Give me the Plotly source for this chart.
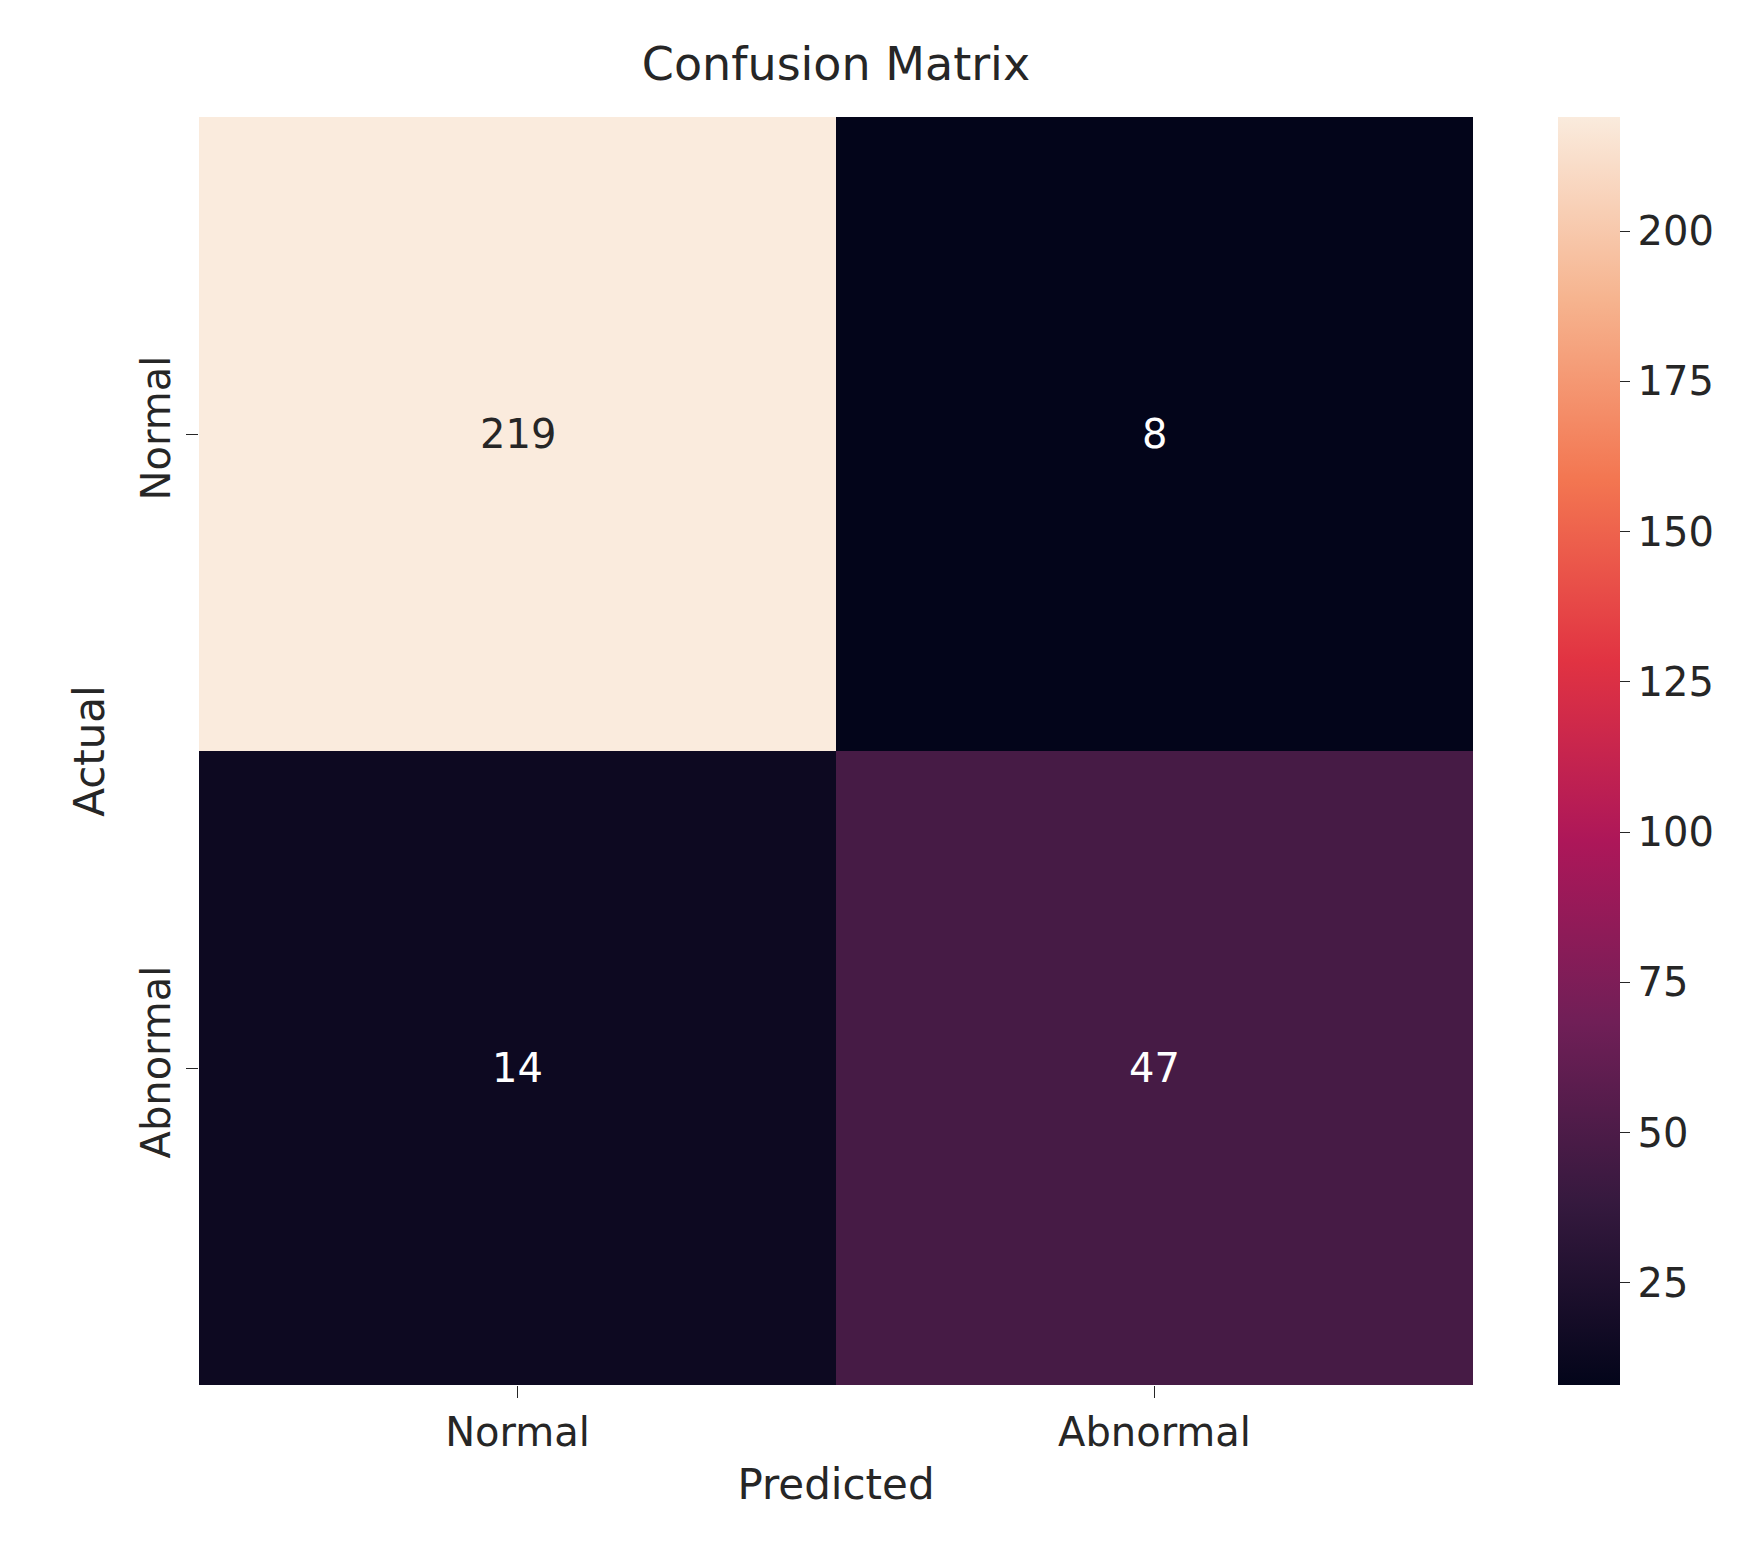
import plotly.graph_objects as go

pred_labels = ["Normal", "Abnormal"]
actual_labels = ["Normal", "Abnormal"]
counts = [[219, 8], [14, 47]]
cbar_ticks = [25, 50, 75, 100, 125, 150, 175, 200]

rocket = [
    [0.0, "#03051A"], [0.143, "#35193E"], [0.286, "#701F57"], [0.429, "#AD1759"],
    [0.571, "#E13342"], [0.714, "#F37651"], [0.857, "#F6B48F"], [1.0, "#FAEBDD"],
]

fig = go.Figure(go.Heatmap(
    z=counts, x=pred_labels, y=actual_labels, colorscale=rocket,
    zmin=min(min(r) for r in counts), zmax=max(max(r) for r in counts),
    xgap=0, ygap=0, showscale=True,
    colorbar=dict(x=1.067, xanchor="left", y=0.5, len=1, lenmode="fraction",
                  thickness=62, outlinewidth=0, xpad=0, ypad=0, tickvals=cbar_ticks,
                  ticks="outside", ticklen=10, tickcolor="#262626",
                  tickfont=dict(size=40, color="#262626", family="DejaVu Sans")),
))
vmax = max(max(r) for r in counts)
for i, row in enumerate(counts):
    for j, v in enumerate(row):
        fig.add_annotation(x=pred_labels[j], y=actual_labels[i], text=str(v), showarrow=False,
                           font=dict(size=40, family="DejaVu Sans",
                                     color="#262626" if v > vmax * 0.6 else "#FFFFFF"))

fig.update_layout(
    width=1755, height=1545, margin=dict(l=191, r=290, t=109, b=168),
    plot_bgcolor="white", paper_bgcolor="white",
    title=dict(text="Confusion Matrix", x=(191 + 1465) / 2 / 1755, xanchor="center",
               y=1 - 56 / 1545, yanchor="middle", font=dict(size=46, color="#262626", family="DejaVu Sans")),
    xaxis=dict(title=dict(text="Predicted", font=dict(size=42, color="#262626"), standoff=15),
               ticks="outside", ticklen=12, tickcolor="#262626", showgrid=False,
               tickfont=dict(size=40, color="#262626")),
    yaxis=dict(title=dict(text="Actual", font=dict(size=42, color="#262626"), standoff=15),
               autorange="reversed", ticks="outside", ticklen=12, tickcolor="#262626",
               showgrid=False, tickangle=-90, tickfont=dict(size=40, color="#262626")),
    font=dict(family="DejaVu Sans"),
)
fig.write_html("out.html")
